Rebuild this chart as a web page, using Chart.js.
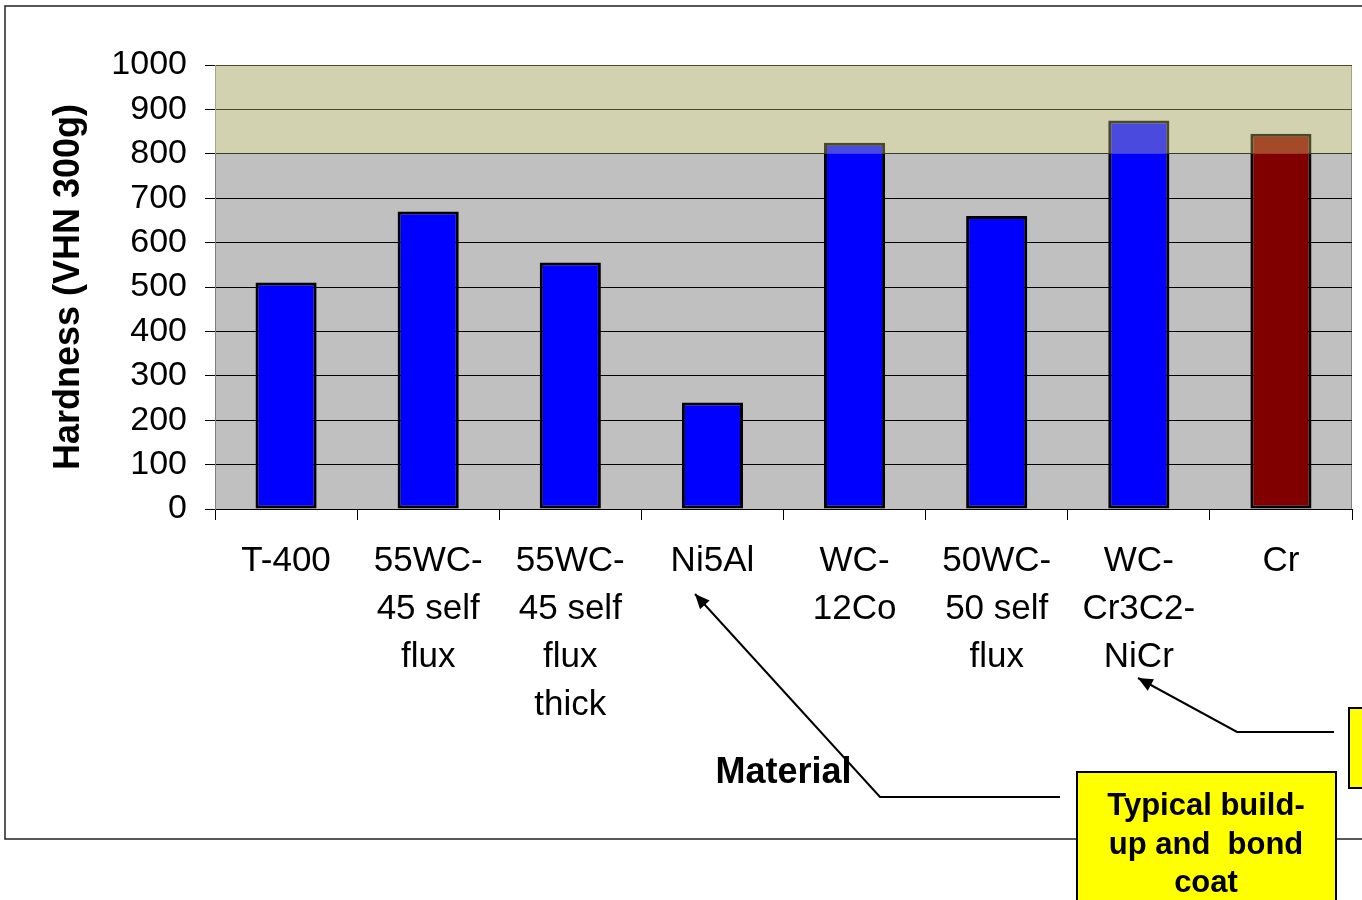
<!DOCTYPE html>
<html>
<head>
<meta charset="utf-8">
<title>Hardness by material</title>
<script src="https://cdn.jsdelivr.net/npm/chart.js@4.4.1/dist/chart.umd.min.js"></script>
<style>
  html, body { margin: 0; padding: 0; background: #fff; }
  canvas { display: block; }
</style>
</head>
<body>
<canvas id="hardnessChart" width="1362" height="900"></canvas>
<script>
// --- data ---
const materials = [
  ['T-400'],
  ['55WC-', '45 self', 'flux'],
  ['55WC-', '45 self', 'flux', 'thick'],
  ['Ni5Al'],
  ['WC-', '12Co'],
  ['50WC-', '50 self', 'flux'],
  ['WC-', 'Cr3C2-', 'NiCr'],
  ['Cr']
];
const hardness = [510, 670, 555, 240, 825, 660, 875, 845];
const barColours = ['#0000ff', '#0000ff', '#0000ff', '#0000ff', '#0000ff', '#0000ff', '#0000ff', '#800000'];
const bandRange = [800, 1000];   // highlighted hardness band

const FONT = '"Liberation Sans", Arial, sans-serif';

// grey plot background + outer frame
const backgroundPlugin = {
  id: 'background',
  beforeDraw(chart) {
    const { ctx, chartArea: a } = chart;
    ctx.save();
    ctx.fillStyle = '#fff';
    ctx.fillRect(0, 0, chart.width, chart.height);
    ctx.strokeStyle = '#222';
    ctx.lineWidth = 1.5;
    ctx.strokeRect(5, 6, 1400, 833);
    ctx.fillStyle = '#c0c0c0';
    ctx.fillRect(a.left, a.top, a.right - a.left, a.bottom - a.top);
    ctx.strokeStyle = '#808080';
    ctx.lineWidth = 1;
    ctx.strokeRect(a.left + 0.5, a.top + 0.5, a.right - a.left - 1, a.bottom - a.top);
    ctx.restore();
  }
};

// translucent band drawn over the bars
const bandPlugin = {
  id: 'band',
  afterDatasetsDraw(chart) {
    const { ctx, chartArea: a, scales: { y } } = chart;
    const y0 = y.getPixelForValue(bandRange[0]);
    const y1 = y.getPixelForValue(bandRange[1]);
    ctx.save();
    ctx.fillStyle = 'rgba(255,255,140,0.29)';
    ctx.fillRect(a.left, y1, a.right - a.left, y0 - y1);
    ctx.restore();
  }
};

// callout boxes with arrows
function arrow(ctx, pts) {
  ctx.beginPath();
  ctx.moveTo(pts[0][0], pts[0][1]);
  for (let i = 1; i < pts.length; i++) ctx.lineTo(pts[i][0], pts[i][1]);
  ctx.stroke();
  // arrow head at the first point
  const [tx, ty] = pts[0], [nx, ny] = pts[1];
  const ang = Math.atan2(ty - ny, tx - nx);
  const len = 16, w = 0.42;
  ctx.beginPath();
  ctx.moveTo(tx, ty);
  ctx.lineTo(tx - len * Math.cos(ang - w), ty - len * Math.sin(ang - w));
  ctx.lineTo(tx - len * Math.cos(ang + w), ty - len * Math.sin(ang + w));
  ctx.closePath();
  ctx.fill();
}

const calloutPlugin = {
  id: 'callouts',
  afterDraw(chart) {
    const ctx = chart.ctx;
    ctx.save();
    ctx.strokeStyle = '#000';
    ctx.fillStyle = '#000';
    ctx.lineWidth = 2;
    arrow(ctx, [[695, 594], [880, 797], [1060, 797]]);
    arrow(ctx, [[1138, 678], [1237, 732], [1334, 732]]);

    ctx.lineWidth = 2;
    ctx.fillStyle = '#ffff00';
    ctx.fillRect(1077, 772, 259, 140);
    ctx.strokeRect(1077, 772, 259, 140);
    ctx.fillRect(1349, 708, 40, 80);
    ctx.strokeRect(1349, 708, 40, 80);

    ctx.fillStyle = '#000';
    ctx.font = 'bold 31px ' + FONT;
    ctx.textAlign = 'center';
    ctx.textBaseline = 'alphabetic';
    ['Typical build-', 'up and  bond', 'coat'].forEach((t, i) => {
      ctx.fillText(t, 1206, 815 + i * 38.5);
    });
    ctx.restore();
  }
};

new Chart(document.getElementById('hardnessChart'), {
  type: 'bar',
  data: {
    labels: materials,
    datasets: [{
      data: hardness,
      backgroundColor: barColours,
      borderColor: '#000',
      borderWidth: 3,
      borderSkipped: false,
      barPercentage: 0.43,
      categoryPercentage: 1.0
    }]
  },
  options: {
    responsive: false,
    animation: false,
    layout: { padding: { left: 43, top: 65, right: 10, bottom: 101 } },
    plugins: {
      legend: { display: false },
      tooltip: { enabled: false }
    },
    scales: {
      x: {
        offset: true,
        grid: {
          offset: true,
          drawOnChartArea: false,
          drawTicks: true,
          tickLength: 11,
          color: '#000'
        },
        border: { display: false },
        ticks: {
          color: '#000',
          padding: 17,
          maxRotation: 0,
          autoSkip: false,
          font: { family: FONT, size: 35, lineHeight: 1.371 }
        },
        title: {
          display: true,
          text: 'Material',
          color: '#000',
          padding: { top: 4, bottom: 4 },
          font: { family: FONT, size: 36, weight: 'bold' }
        },
        afterFit(scale) { scale.height = 290; }
      },
      y: {
        min: 0,
        max: 1000,
        grid: {
          color: '#000',
          lineWidth: 1,
          tickLength: 10
        },
        border: { display: true, color: '#808080' },
        ticks: {
          stepSize: 100,
          color: '#000',
          padding: 18,
          callback: v => String(v),
          font: { family: FONT, size: 34 }
        },
        title: {
          display: true,
          text: 'Hardness (VHN 300g)',
          color: '#000',
          padding: { top: 4, bottom: 4 },
          font: { family: FONT, size: 36, weight: 'bold' }
        },
        afterFit(scale) { scale.width = 172; }
      }
    }
  },
  plugins: [backgroundPlugin, bandPlugin, calloutPlugin]
});
</script>
</body>
</html>
